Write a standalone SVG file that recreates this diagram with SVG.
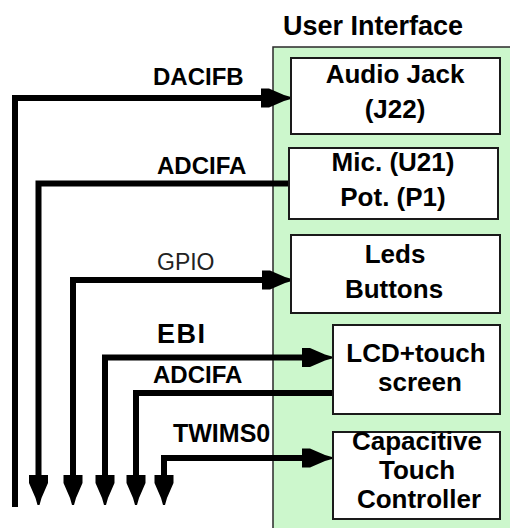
<svg xmlns="http://www.w3.org/2000/svg" width="510" height="528" viewBox="0 0 510 528">
<style>
.lbl{font-family:"Liberation Sans",Arial,sans-serif;font-weight:bold;fill:#000}
.box{fill:#fff;stroke:#1a1a1a;stroke-width:2}
.bt{font-family:"Liberation Sans",Arial,sans-serif;font-weight:bold;font-size:26px;fill:#000;text-anchor:middle}
.wire{fill:none;stroke:#000;stroke-width:6;stroke-linejoin:miter;stroke-linecap:butt}
</style>
<defs>
<marker id="ah" markerUnits="userSpaceOnUse" viewBox="0 -11 32 22" markerWidth="32" markerHeight="22" refX="0" refY="0" orient="auto-start-reverse">
<path d="M0,-9.5 L8,-9.5 L23,-3 L30,-1 L30,1 L23,3 L8,9.5 L0,9.5 Z" fill="#000"/>
</marker>
</defs>
<rect width="510" height="528" fill="#fff"/>
<g id="ui-panel">
<rect x="273" y="47" width="250" height="500" fill="#ccf7cc" stroke="#2a2a2a" stroke-width="1.5"/>
<text class="lbl" x="373" y="35" font-size="27" text-anchor="middle">User Interface</text>
</g>
<g id="connectors">
<path class="wire" d="M15,507 V98 H261" marker-end="url(#ah)"/>
<path class="wire" d="M290,183.5 H38.5 V475" marker-end="url(#ah)"/>
<path class="wire" d="M262,280 H73 V475" marker-start="url(#ah)" marker-end="url(#ah)"/>
<path class="wire" d="M302,357.5 H105 V475" marker-start="url(#ah)" marker-end="url(#ah)"/>
<path class="wire" d="M333,393 H136 V475" marker-end="url(#ah)"/>
<path class="wire" d="M302,458 H164 V475" marker-start="url(#ah)" marker-end="url(#ah)"/>
<text class="lbl" x="153" y="85" font-size="24">DACIFB</text>
<text class="lbl" x="157" y="174" font-size="24">ADCIFA</text>
<text x="157" y="270" font-size="23" font-family="Liberation Sans, Arial, sans-serif" fill="#222">GPIO</text>
<text class="lbl" x="157" y="343" font-size="27" letter-spacing="1.5">EBI</text>
<text class="lbl" x="153" y="383" font-size="24">ADCIFA</text>
<text class="lbl" x="173" y="442" font-size="25">TWIMS0</text>
</g>
<g id="audio-jack">
<rect class="box" x="291" y="58" width="209" height="76"/>
<text class="bt" x="395" y="83">Audio Jack</text>
<text class="bt" x="395" y="118">(J22)</text>
</g>
<g id="mic-pot">
<rect class="box" x="289" y="148" width="209" height="71"/>
<text class="bt" x="393" y="171">Mic. (U21)</text>
<text class="bt" x="393" y="206">Pot. (P1)</text>
</g>
<g id="leds-buttons">
<rect class="box" x="291" y="235" width="209" height="78"/>
<text class="bt" x="395" y="263">Leds</text>
<text class="bt" x="394" y="298">Buttons</text>
</g>
<g id="lcd-touch">
<rect class="box" x="333" y="325" width="167" height="89"/>
<text class="bt" x="416" y="362">LCD+touch</text>
<text class="bt" x="420" y="391">screen</text>
</g>
<g id="cap-touch">
<rect class="box" x="333" y="432" width="167" height="87"/>
<text class="bt" x="417" y="450">Capacitive</text>
<text class="bt" x="417" y="479">Touch</text>
<text class="bt" x="419" y="508">Controller</text>
</g>
</svg>
